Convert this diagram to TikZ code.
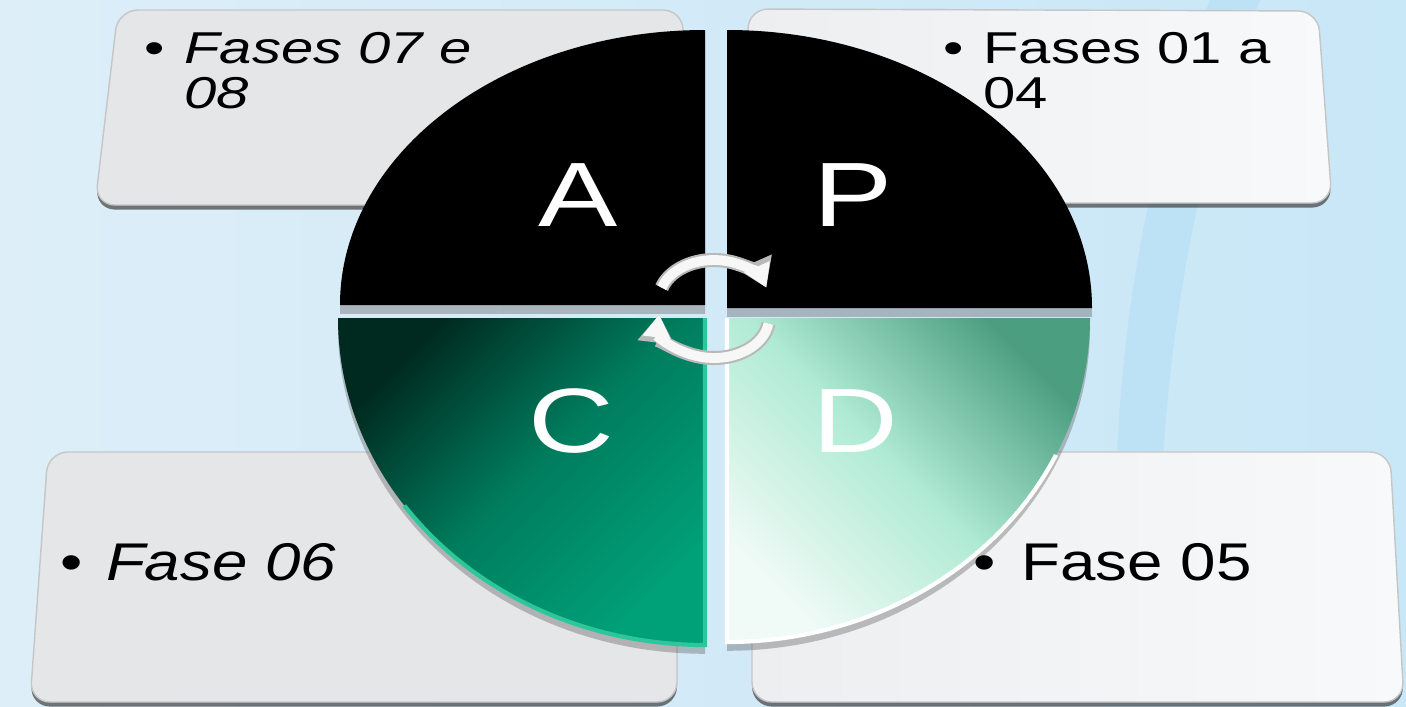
\documentclass[tikz,border=0pt]{standalone}
\usepackage{fontspec}
\setmainfont{Liberation Sans}
\usetikzlibrary{arrows.meta,shadows}

\definecolor{bgleft}{HTML}{DDEEF8}
\definecolor{bgright}{HTML}{C8E7F7}
\definecolor{bgswoosh}{HTML}{BDE2F5}
\definecolor{cardA}{HTML}{E5E6E8}
\definecolor{cardB}{HTML}{EDEEF0}
\definecolor{cardC}{HTML}{F8F9FA}
\definecolor{cdark}{HTML}{00291F}
\definecolor{cmid}{HTML}{007D5E}
\definecolor{clight}{HTML}{00A078}
\definecolor{crim}{HTML}{2CC79A}
\definecolor{ddark}{HTML}{4C9E81}
\definecolor{dmid}{HTML}{B0EBD5}
\definecolor{dlight}{HTML}{F0FAF6}

\begin{document}
\begin{tikzpicture}[
        card/.style={draw=gray!45, line width=0.4pt, rounded corners=0.2cm,
                     drop shadow={shadow xshift=0pt, shadow yshift=-1.3pt,
                                  opacity=0.7, fill=black!75}},
        quad/.style={drop shadow={shadow xshift=0pt, shadow yshift=-2.5pt,
                                  opacity=0.4, fill=black!60}},
        letter/.style={text=white, font=\fontsize{26}{26}\selectfont,
                       inner sep=0pt, xscale=1.3, transform shape},
        toptext/.style={font=\fontsize{12.7}{12.8}\selectfont, align=left,
                        anchor=north west, inner sep=0pt,
                        xscale=1.3, transform shape},
        lowtext/.style={font=\fontsize{15.1}{15.2}\selectfont, align=left,
                        anchor=north west, inner sep=0pt,
                        xscale=1.2, transform shape},
        cycback/.style={draw=gray!55, line width=4pt,
                        -{Triangle[length=8pt,width=10pt]}},
        cycfront/.style={draw=gray!6, line width=2.8pt,
                         -{Triangle[length=6.5pt,width=7.5pt]}},
      ]
        \fill[left color=bgleft, right color=bgright] (0,0) rectangle (14.06,7.06);
        \useasboundingbox (0,0) rectangle (14.06,7.06);
        \fill[bgswoosh]
          (12.1,7.06) .. controls (11.5,5.5) and (11.2,4.0) .. (11.15,2.0)
          -- (11.6,2.0) .. controls (11.7,4.0) and (12.0,5.5) .. (12.6,7.06) -- cycle;

        \path[card, fill=cardA] (1.18,6.96) -- (6.83,6.96) -- (6.83,5.01) -- (0.95,5.01) -- cycle;
        \path[card, left color=cardB, right color=cardC]
          (7.48,6.97) -- (13.18,6.95) -- (13.32,5.03) -- (7.48,5.03) -- cycle;
        \path[card, fill=cardA] (0.48,2.54) -- (6.77,2.54) -- (6.77,0.04) -- (0.30,0.04) -- cycle;
        \path[card, left color=cardB, right color=cardC]
          (7.52,2.54) -- (13.90,2.54) -- (14.04,0.04) -- (7.52,0.04) -- cycle;

        \coordinate (hubA) at (7.05,4.01);
        \coordinate (hubP) at (7.27,3.98);
        \coordinate (hubC) at (7.05,3.88);
        \coordinate (hubD) at (7.27,3.88);

        \path[quad, fill=black] (hubA) -- ++(0,2.75)
          arc[start angle=90, end angle=180, x radius=3.65, y radius=2.75] -- cycle;
        \path[quad, fill=black] (hubP) -- ++(3.65,0)
          arc[start angle=0, end angle=90, x radius=3.65, y radius=2.78] -- cycle;
        \path[quad, top color=cdark, bottom color=clight, middle color=cmid, shading angle=45]
          (hubC) -- ++(-3.67,0)
          arc[start angle=180, end angle=270, x radius=3.67, y radius=3.27] -- cycle;
        \path[quad, top color=ddark, bottom color=dlight, middle color=dmid, shading angle=-45]
          (hubD) -- ++(0,-3.24)
          arc[start angle=270, end angle=360, x radius=3.63, y radius=3.24] -- cycle;
        \draw[crim, line width=1.2pt] ([shift={(215:3.67 and 3.27)}]hubC)
          arc[start angle=215, end angle=270, x radius=3.67, y radius=3.27] -- (hubC);
        \draw[white, line width=1.2pt] (hubD) -- ++(0,-3.24)
          arc[start angle=270, end angle=335, x radius=3.63, y radius=3.24];

        \foreach \x/\y/\lab in {5.78/5.11/A, 8.53/5.11/P, 5.71/2.85/C, 8.55/2.85/D} {
          \node[letter] (let\lab) at (\x,\y) {\lab};
        }

        \coordinate (hubUp) at (7.14,4.06);
        \coordinate (hubLow) at (7.14,3.88);
        \foreach \sty in {cycback, cycfront} {
          \draw[\sty] ([shift={(162:0.55 and 0.40)}]hubUp)
            arc[start angle=162, end angle=18, x radius=0.55, y radius=0.40];
          \draw[\sty] ([shift={(-8:0.55 and 0.40)}]hubLow)
            arc[start angle=-8, end angle=-185, x radius=0.55, y radius=0.40];
        }

        \node[toptext] (actText) at (1.44,6.74)
          {\textbullet\hspace{0.33em}\textit{Fases 07 e}\\\phantom{\textbullet\hspace{0.33em}}\textit{08}};
        \node[toptext] (planText) at (9.43,6.74)
          {\textbullet\hspace{0.33em}Fases 01 a\\\phantom{\textbullet\hspace{0.33em}}04};
        \node[lowtext] (checkText) at (0.60,1.63)
          {\textbullet\hspace{0.36em}\textit{Fase 06}};
        \node[lowtext] (doText) at (9.73,1.63)
          {\textbullet\hspace{0.40em}Fase 05};
      \end{tikzpicture}
\end{document}
